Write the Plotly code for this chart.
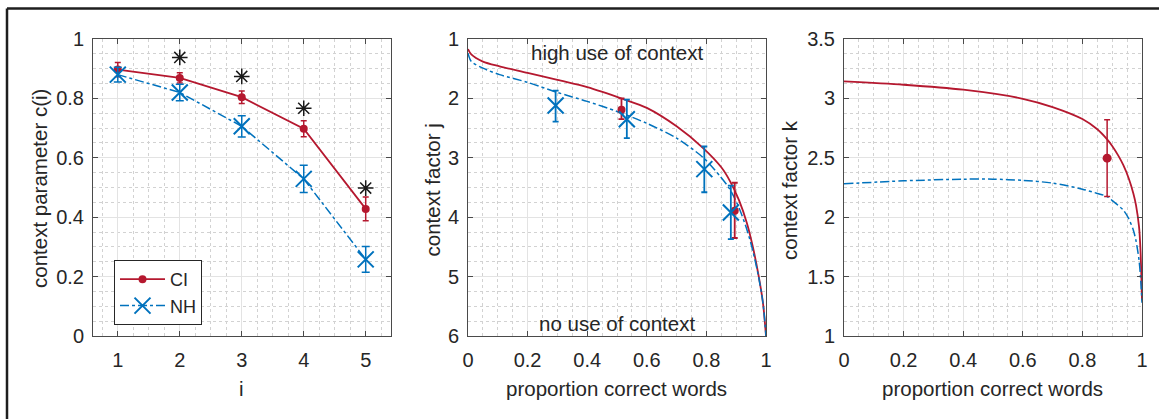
import plotly.graph_objects as go

# ---------------- data ----------------
i_vals = [1, 2, 3, 4, 5]
ci_c = [0.897, 0.869, 0.804, 0.698, 0.428]
ci_c_err = [0.024, 0.017, 0.021, 0.027, 0.040]
nh_c = [0.880, 0.820, 0.706, 0.529, 0.258]
nh_c_err = [0.025, 0.028, 0.036, 0.046, 0.043]
sig_i = [2, 3, 4, 5]
sig_y = [0.938, 0.874, 0.767, 0.498]

# middle panel: context factor j
j_ci_curve_x = [0.0, 0.011, 0.05, 0.106, 0.2, 0.3, 0.4, 0.52, 0.6, 0.7, 0.79, 0.85, 0.88, 0.91, 0.936, 0.955, 0.975, 0.99, 1.0]
j_ci_curve_y = [1.17, 1.26, 1.38, 1.46, 1.57, 1.69, 1.81, 2.01, 2.16, 2.47, 2.84, 3.16, 3.40, 3.72, 4.10, 4.48, 4.98, 5.45, 6.0]
j_nh_curve_x = [0.0, 0.011, 0.05, 0.106, 0.2, 0.3, 0.4, 0.5, 0.6, 0.7, 0.79, 0.846, 0.88, 0.91, 0.936, 0.955, 0.975, 0.99, 1.0]
j_nh_curve_y = [1.24, 1.38, 1.49, 1.60, 1.73, 1.90, 2.05, 2.22, 2.42, 2.67, 3.00, 3.31, 3.54, 3.85, 4.21, 4.55, 5.00, 5.45, 6.0]
j_ci_pts_x = [0.515, 0.895]
j_ci_pts_y = [2.19, 3.89]
j_ci_pts_lo = [0.19, 0.47]
j_ci_pts_hi = [0.16, 0.46]
j_nh_pts_x = [0.294, 0.533, 0.793, 0.882]
j_nh_pts_y = [2.12, 2.35, 3.19, 3.92]
j_nh_pts_lo = [0.25, 0.33, 0.38, 0.45]
j_nh_pts_hi = [0.27, 0.32, 0.39, 0.45]

# right panel: context factor k
k_ci_curve_x = [0.0, 0.2, 0.4, 0.6, 0.7, 0.8, 0.85, 0.883, 0.9, 0.92, 0.937, 0.955, 0.971, 0.98, 0.99, 0.995, 1.0]
k_ci_curve_y = [3.143, 3.115, 3.073, 2.997, 2.927, 2.826, 2.74, 2.655, 2.60, 2.52, 2.44, 2.33, 2.20, 2.10, 1.92, 1.72, 1.30]
k_nh_curve_x = [0.0, 0.2, 0.4, 0.5, 0.6, 0.7, 0.8, 0.85, 0.883, 0.9, 0.937, 0.955, 0.971, 0.98, 0.99, 0.995, 1.0]
k_nh_curve_y = [2.281, 2.306, 2.32, 2.32, 2.31, 2.287, 2.236, 2.20, 2.174, 2.14, 2.06, 1.99, 1.89, 1.80, 1.64, 1.50, 1.28]
k_ci_pts_x = [0.883]
k_ci_pts_y = [2.497]
k_ci_pts_lo = [0.323]
k_ci_pts_hi = [0.323]

RED = "#B5182F"
BLUE = "#0072BD"
FONT = "Liberation Sans, Arial, Helvetica, sans-serif"
W, H = 1159, 419

fig = go.Figure()

# ---- left panel ----
fig.add_trace(go.Scatter(
    x=i_vals, y=ci_c, name="CI", mode="lines+markers",
    line=dict(color=RED, width=1.8),
    marker=dict(symbol="circle", size=8, color=RED),
    error_y=dict(type="data", array=ci_c_err, color=RED, thickness=1.5, width=3),
    xaxis="x", yaxis="y"))
fig.add_trace(go.Scatter(
    x=i_vals, y=nh_c, name="NH", mode="lines+markers",
    line=dict(color=BLUE, width=1.5, dash="dashdot"),
    marker=dict(symbol="x-thin-open", size=16, color=BLUE, line=dict(color=BLUE, width=2)),
    error_y=dict(type="data", array=nh_c_err, color=BLUE, thickness=1.5, width=4),
    xaxis="x", yaxis="y"))
fig.add_trace(go.Scatter(
    x=sig_i, y=sig_y, mode="markers", showlegend=False,
    marker=dict(symbol="asterisk-open", size=13, color="#1a1a1a", line=dict(color="#1a1a1a", width=1.5)),
    xaxis="x", yaxis="y"))

# ---- middle panel ----
fig.add_trace(go.Scatter(
    x=j_ci_curve_x, y=j_ci_curve_y, mode="lines", showlegend=False,
    line=dict(color=RED, width=1.8, shape="spline", smoothing=0.8),
    xaxis="x2", yaxis="y2"))
fig.add_trace(go.Scatter(
    x=j_nh_curve_x, y=j_nh_curve_y, mode="lines", showlegend=False,
    line=dict(color=BLUE, width=1.5, dash="dashdot", shape="spline", smoothing=0.8),
    xaxis="x2", yaxis="y2"))
fig.add_trace(go.Scatter(
    x=j_ci_pts_x, y=j_ci_pts_y, mode="markers", showlegend=False,
    marker=dict(symbol="circle", size=8, color=RED),
    error_y=dict(type="data", array=j_ci_pts_hi, arrayminus=j_ci_pts_lo, color=RED, thickness=1.8, width=3),
    xaxis="x2", yaxis="y2"))
fig.add_trace(go.Scatter(
    x=j_nh_pts_x, y=j_nh_pts_y, mode="markers", showlegend=False,
    marker=dict(symbol="x-thin-open", size=16, color=BLUE, line=dict(color=BLUE, width=2)),
    error_y=dict(type="data", array=j_nh_pts_hi, arrayminus=j_nh_pts_lo, color=BLUE, thickness=1.8, width=3),
    xaxis="x2", yaxis="y2"))

# ---- right panel ----
fig.add_trace(go.Scatter(
    x=k_ci_curve_x, y=k_ci_curve_y, mode="lines", showlegend=False,
    line=dict(color=RED, width=1.8, shape="spline", smoothing=0.8),
    xaxis="x3", yaxis="y3"))
fig.add_trace(go.Scatter(
    x=k_nh_curve_x, y=k_nh_curve_y, mode="lines", showlegend=False,
    line=dict(color=BLUE, width=1.5, dash="dashdot", shape="spline", smoothing=0.8),
    xaxis="x3", yaxis="y3"))
fig.add_trace(go.Scatter(
    x=k_ci_pts_x, y=k_ci_pts_y, mode="markers", showlegend=False,
    marker=dict(symbol="circle", size=9, color=RED),
    error_y=dict(type="data", array=k_ci_pts_hi, arrayminus=k_ci_pts_lo, color=RED, thickness=1.5, width=3),
    xaxis="x3", yaxis="y3"))

# ---- axes ----
def px_x(p):
    return p / W

def px_y(p):
    return 1 - p / H

ydom = [px_y(336), px_y(39)]
common = dict(
    showline=True, linecolor="#4a4a4a", linewidth=1, mirror="ticks",
    ticks="inside", ticklen=5, tickcolor="#4a4a4a",
    showgrid=True, gridcolor="#e3e3e3", gridwidth=1, zeroline=False,
    tickfont=dict(family=FONT, size=20, color="#262626"),
    automargin=False, fixedrange=True,
)

def minor(d):
    return dict(dtick=d, showgrid=True, gridcolor="#d2d2d2", griddash="dot", gridwidth=1, ticks="")

fig.update_layout(
    xaxis=dict(domain=[px_x(93), px_x(390.5)], range=[0.6, 5.4], tick0=1, dtick=1,
               minor=minor(0.25), anchor="y", ticklabelstandoff=6, **common),
    yaxis=dict(domain=ydom, range=[0, 1], tick0=0, dtick=0.2, minor=minor(0.05), anchor="x",
               ticklabelstandoff=4, **common),
    xaxis2=dict(domain=[px_x(468), px_x(766)], range=[0, 1], tick0=0, dtick=0.2,
                minor=minor(0.05), anchor="y2", ticklabelstandoff=6, **common),
    yaxis2=dict(domain=ydom, range=[6, 1], tick0=1, dtick=1, minor=minor(0.25), anchor="x2",
                ticklabelstandoff=4, **common),
    xaxis3=dict(domain=[px_x(844), px_x(1142)], range=[0, 1], tick0=0, dtick=0.2,
                minor=minor(0.05), anchor="y3", ticklabelstandoff=6, **common),
    yaxis3=dict(domain=ydom, range=[1, 3.5], tick0=1, dtick=0.5, minor=minor(0.125), anchor="x3",
                ticklabelstandoff=4, **common),
)

TF = dict(family=FONT, size=20.5, color="#262626")
annots = [
    dict(text="context parameter c(i)", x=px_x(40), y=px_y(189), textangle=-90),
    dict(text="i", x=px_x(241.7), y=px_y(388)),
    dict(text="context factor j", x=px_x(431.5), y=px_y(190), textangle=-90),
    dict(text="proportion correct words", x=px_x(616.7), y=px_y(388)),
    dict(text="context factor k", x=px_x(789), y=px_y(190), textangle=-90),
    dict(text="proportion correct words", x=px_x(992.5), y=px_y(388)),
]
for a in annots:
    a.update(xref="paper", yref="paper", showarrow=False, font=TF,
             xanchor="center", yanchor="middle")
annots += [
    dict(text="high use of context", x=0.5, y=1.22, xref="x2", yref="y2", showarrow=False,
         font=TF, xanchor="center", yanchor="middle"),
    dict(text="no use of context", x=0.5, y=5.79, xref="x2", yref="y2", showarrow=False,
         font=TF, xanchor="center", yanchor="middle"),
]

fig.update_layout(
    width=W, height=H,
    margin=dict(l=0, r=0, t=0, b=0),
    paper_bgcolor="white", plot_bgcolor="white",
    font=dict(family=FONT, size=18, color="#262626"),
    annotations=annots,
    showlegend=True,
    legend=dict(
        x=px_x(114), y=px_y(260), xanchor="left", yanchor="top",
        bgcolor="white", bordercolor="#262626", borderwidth=1,
        font=dict(family=FONT, size=18, color="#262626"),
        tracegroupgap=0, itemwidth=45,
    ),
    shapes=[
        dict(type="line", xref="paper", yref="paper", x0=px_x(7), x1=1.0, y0=px_y(8.5), y1=px_y(8.5),
             line=dict(color="#1e1e1e", width=2.5)),
        dict(type="line", xref="paper", yref="paper", x0=px_x(7), x1=px_x(7), y0=0, y1=px_y(8.5),
             line=dict(color="#1e1e1e", width=2.5)),
    ],
)

fig.write_html(
    "out.html",
    config={"displayModeBar": False, "staticPlot": True},
    post_script="document.body.style.margin='0';document.body.style.overflow='hidden';",
)
